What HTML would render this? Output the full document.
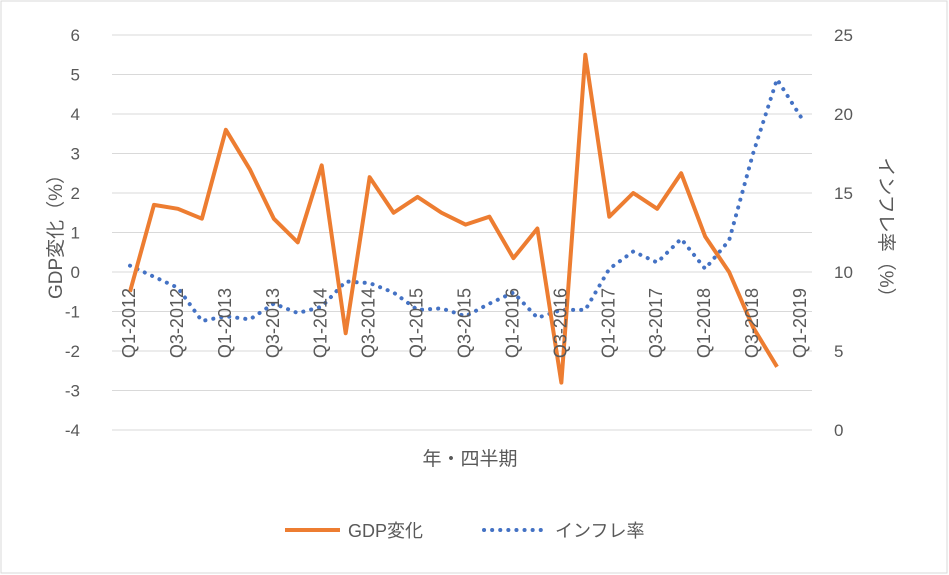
<!DOCTYPE html>
<html><head><meta charset="utf-8"><style>
body{margin:0;background:#fff;}
svg{display:block;font-family:"Liberation Sans","Noto Sans CJK JP",sans-serif;}
</style></head><body>
<svg id="c" width="949" height="575">
<rect x="1" y="1" width="946" height="572" fill="#fff" stroke="#d9d9d9"/>
<g id="grid"></g><g id="marks"></g><g id="labels"></g>
<text x="62" y="232" transform="rotate(-90 62 232)" text-anchor="middle" font-size="19" fill="#595959">GDP変化（%）</text>
<text x="880" y="232" transform="rotate(90 880 232)" text-anchor="middle" font-size="19" fill="#595959">インフレ率（%）</text>
<text x="470" y="465" text-anchor="middle" font-size="19" fill="#595959">年・四半期</text>
<g>
<line x1="285" y1="530" x2="340" y2="530" stroke="#ed7d31" stroke-width="4"/>
<text x="348" y="537" font-size="18" fill="#595959">GDP変化</text>
<line x1="484" y1="530" x2="545" y2="530" stroke="#4472c4" stroke-width="4" stroke-dasharray="0.1 8" stroke-linecap="round"/>
<text x="555" y="537" font-size="18" fill="#595959">インフレ率</text>
</g>
</svg>
<script>
const categories=["Q1-2012","Q2-2012","Q3-2012","Q4-2012","Q1-2013","Q2-2013","Q3-2013","Q4-2013","Q1-2014","Q2-2014","Q3-2014","Q4-2014","Q1-2015","Q2-2015","Q3-2015","Q4-2015","Q1-2016","Q2-2016","Q3-2016","Q4-2016","Q1-2017","Q2-2017","Q3-2017","Q4-2017","Q1-2018","Q2-2018","Q3-2018","Q4-2018","Q1-2019"];
const gdp=[-0.5,1.7,1.6,1.35,3.6,2.6,1.35,0.75,2.7,-1.55,2.4,1.5,1.9,1.5,1.2,1.4,0.35,1.1,-2.8,5.5,1.4,2.0,1.6,2.5,0.9,0.0,-1.4,-2.4];
const inflation=[10.4,9.7,9.0,6.9,7.2,7.0,8.0,7.4,7.8,9.4,9.3,8.7,7.6,7.7,7.2,8.0,8.7,7.1,7.6,7.6,10.2,11.3,10.6,12.1,10.2,12.0,17.5,22.2,19.8];
const leftTicks=[-4,-3,-2,-1,0,1,2,3,4,5,6];
const rightTicks=[0,5,10,15,20,25];
const xLabelIdx=[0,2,4,6,8,10,12,14,16,18,20,22,24,26,28];
const NS="http://www.w3.org/2000/svg";
const X0=130,X1=801,YT=35,YB=430,PL=112,PR=812;
const x=i=>X0+i*(X1-X0)/(categories.length-1);
const yL=v=>YB-(v+4)/10*(YB-YT);
const yR=v=>YB-v/25*(YB-YT);
function mk(t,a,p){const e=document.createElementNS(NS,t);for(const k in a)e.setAttribute(k,a[k]);p.appendChild(e);return e;}
const grid=document.getElementById('grid'),marks=document.getElementById('marks'),labels=document.getElementById('labels');
leftTicks.forEach(v=>{
 const l=mk('line',{x1:PL,x2:PR,y1:yL(v),y2:yL(v),stroke:'#d9d9d9','stroke-width':1},grid);
 
 
 const t=mk('text',{x:80,y:yL(v)+6,'text-anchor':'end','font-size':17,fill:'#595959'},labels);
 t.textContent=v;
 
 
});
rightTicks.forEach(v=>{
 const t=mk('text',{x:834,y:yR(v)+6,'font-size':17,fill:'#595959'},labels);
 t.textContent=v;
 
 
});
xLabelIdx.forEach(i=>{
 const xx=x(i)+5,yy=yL(0)+16;
 const t=mk('text',{x:xx,y:yy,transform:`rotate(-90 ${xx} ${yy})`,'text-anchor':'end','font-size':18,fill:'#595959'},labels);
 t.textContent=categories[i];
 
 
});
const pi=mk('polyline',{points:inflation.map((v,i)=>x(i)+','+yR(v)).join(' '),fill:'none',stroke:'#4472c4','stroke-width':4,'stroke-dasharray':'0.1 8','stroke-linecap':'round'},marks);


const pg=mk('polyline',{points:gdp.map((v,i)=>x(i)+','+yL(v)).join(' '),fill:'none',stroke:'#ed7d31','stroke-width':4,'stroke-linejoin':'round'},marks);


</script>
</body></html>
